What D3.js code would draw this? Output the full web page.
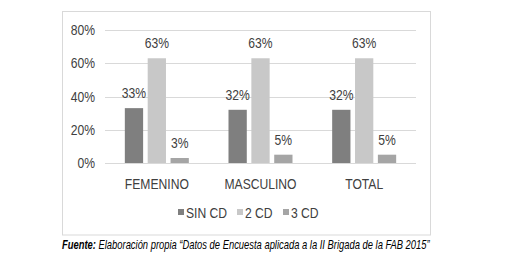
<!DOCTYPE html>
<html><head><meta charset="utf-8">
<script src="https://cdn.jsdelivr.net/npm/d3@7"></script>
<style>
body{margin:0;background:#fff;}
text{font-family:"Liberation Sans",Arial,sans-serif;}
</style></head>
<body>
<svg id="c" width="510" height="273"></svg>
<script>
const categories = ["FEMENINO","MASCULINO","TOTAL"];
const seriesNames = ["SIN CD","2 CD","3 CD"];
const sinCD = [33,32,32];
const dosCD = [63,63,63];
const tresCD = [3,5,5];
const yTicks = [0,20,40,60,80];
const colors = ["#7f7f7f","#c8c8c8","#a5a5a5"];
const sourceLabel = "Fuente:";
const sourceText = " Elaboración propia “Datos de Encuesta aplicada a la II Brigada de la FAB 2015”";

const series = [sinCD,dosCD,tresCD];
const svg = d3.select("#c");
const NARROW = 0.82;
const FS = 14.8;
const TXT = "#404040";

function label(parent,x,y,str,anchor){
  return parent.append("text")
    .attr("transform",`translate(${x},${y}) scale(${NARROW},1)`)
    .attr("text-anchor",anchor||"start").attr("font-size",FS).attr("fill",TXT).text(str);
}

svg.append("rect").attr("x",62.5).attr("y",11.5).attr("width",368).attr("height",223.5)
  .attr("fill","#fff").attr("stroke","#d9d9d9").attr("stroke-width",1);

const x = d3.scaleBand().domain(categories).range([105,416]);
const y = d3.scaleLinear().domain([0,80]).range([163,30]);
const xs = d3.scaleBand().domain(seriesNames).range([0,64]).paddingInner(0.2);

const g = svg.append("g");
g.selectAll(".grid").data(yTicks).enter().append("line")
  .attr("x1",105).attr("x2",416)
  .attr("y1",d=>Math.round(y(d))+0.5).attr("y2",d=>Math.round(y(d))+0.5)
  .attr("stroke","#d9d9d9").attr("stroke-width",1);

yTicks.forEach(d=>label(g,95,y(d)+5,d+"%","end"));

seriesNames.forEach((s,si)=>{
  const vals = series[si];
  categories.forEach((c,ci)=>{
    const bx = x(c)+x.bandwidth()/2-32+xs(s);
    g.append("rect").attr("x",bx).attr("y",y(vals[ci]))
      .attr("width",xs.bandwidth()).attr("height",y(0)-y(vals[ci]))
      .attr("fill",colors[si]);
    label(g,bx+xs.bandwidth()/2,y(vals[ci])-10,vals[ci]+"%","middle");
  });
});

categories.forEach(c=>label(g,x(c)+x.bandwidth()/2,188.5,c,"middle"));

const legX = [178,237,283];
seriesNames.forEach((s,i)=>{
  svg.append("rect").attr("x",legX[i]).attr("y",209).attr("width",6).attr("height",6).attr("fill",colors[i]);
  label(svg,legX[i]+8,218,s,"start");
});

const src = svg.append("text").attr("font-size",12)
  .attr("font-style","italic").attr("fill","#000");
src.append("tspan").attr("font-weight","bold").text(sourceLabel);
src.append("tspan").text(sourceText);
const w = src.node().getComputedTextLength();
src.attr("transform",`translate(62,249) scale(${368/w},1)`);
</script>
</body></html>
